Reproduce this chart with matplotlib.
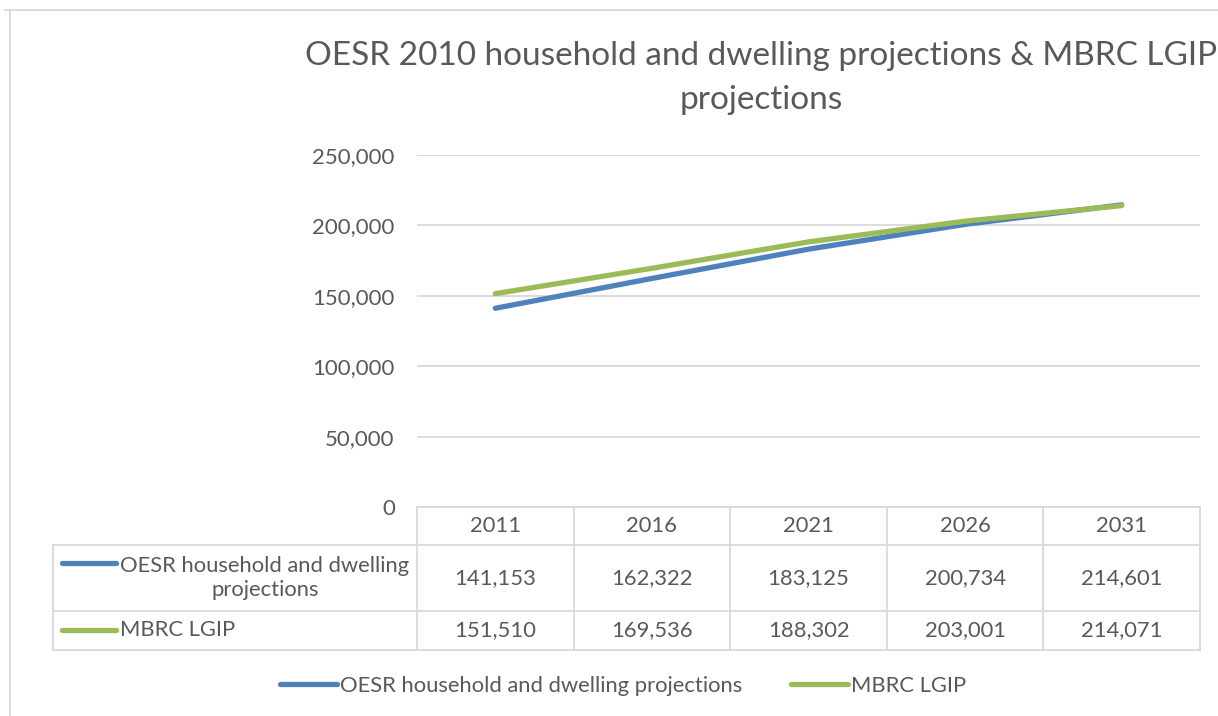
import matplotlib
matplotlib.use('Agg')
import matplotlib.pyplot as plt
from matplotlib.lines import Line2D
from matplotlib.transforms import Affine2D

years = ['2011', '2016', '2021', '2026', '2031']
oesr = [141153, 162322, 183125, 200734, 214601]
mbrc = [151510, 169536, 188302, 203001, 214071]
series_names = ['OESR household and dwelling projections', 'MBRC LGIP']
row_labels = ['OESR household and dwelling\nprojections', 'MBRC LGIP']
yticks = [0, 50000, 100000, 150000, 200000, 250000]
title = 'OESR 2010 household and dwelling projections & MBRC LGIP\nprojections'

BLUE = '#4f81bd'
GREEN = '#9bbb59'
TXT = '#595959'
GRID = '#d9d9d9'
FONT = 'Lato'
FS = 15.8

W, H = 1218, 716
fig = plt.figure(figsize=(W / 100, H / 100), dpi=100)
plt.rcParams['font.family'] = FONT

# pixel transform with top-left origin
pix = Affine2D().scale(1 / W, -1 / H).translate(0, 1) + fig.transFigure

def fx(p):
    return p / W

def fy(p):
    return 1 - p / H

ax = fig.add_axes([fx(417), fy(507), fx(1200) - fx(417), fy(155) - fy(507)])
x = list(range(len(years)))
ax.plot(x, oesr, color=BLUE, lw=3.8, solid_capstyle='round', zorder=3)
ax.plot(x, mbrc, color=GREEN, lw=3.8, solid_capstyle='round', zorder=3)
ax.set_xlim(-0.5, len(years) - 0.5)
ax.set_ylim(yticks[0], yticks[-1])
ax.set_yticks(yticks)
ax.set_yticklabels([f'{v:,}' for v in yticks])
ax.set_xticks([])
ax.grid(axis='y', color=GRID, lw=1.3)
ax.set_axisbelow(True)
for s in ax.spines.values():
    s.set_visible(False)
ax.tick_params(axis='y', length=0, labelsize=16, labelcolor=TXT, pad=16)

# outer chart border
fig.add_artist(Line2D([10, 10], [10, 716], color=GRID, lw=1.3, transform=pix))
fig.add_artist(Line2D([5, 1218], [10, 10], color=GRID, lw=1.3, transform=pix))

# title
fig.text(fx(761), fy(78), title, ha='center', va='center', fontsize=24,
         color=TXT, linespacing=1.55)

# data table
fig.canvas.draw()
to_px = lambda xd: ax.transData.transform((xd, 0))[0]
bounds = [to_px(i - 0.5) for i in range(len(years) + 1)]
centers = [to_px(i) for i in x]
rows_y = [507, 545, 611, 650]
left_px = 53
lw_t = 1.3
# horizontal lines
fig.add_artist(Line2D([bounds[0], bounds[-1]], [rows_y[0], rows_y[0]], color=GRID, lw=lw_t, transform=pix))
for yy in rows_y[1:]:
    fig.add_artist(Line2D([left_px, bounds[-1]], [yy, yy], color=GRID, lw=lw_t, transform=pix))
# vertical lines
for b in bounds:
    fig.add_artist(Line2D([b, b], [rows_y[0], rows_y[-1]], color=GRID, lw=lw_t, transform=pix))
fig.add_artist(Line2D([left_px, left_px], [rows_y[1], rows_y[-1]], color=GRID, lw=lw_t, transform=pix))

for c, yr in zip(centers, years):
    fig.text(c, (rows_y[0] + rows_y[1]) / 2, yr, transform=pix, ha='center', va='center',
             fontsize=FS, color=TXT)
for vals, r in ((oesr, 1), (mbrc, 2)):
    ymid = (rows_y[r] + rows_y[r + 1]) / 2
    for c, v in zip(centers, vals):
        fig.text(c, ymid, f'{v:,}', transform=pix, ha='center', va='center',
                 fontsize=FS, color=TXT)

# row labels with legend keys
fig.add_artist(Line2D([62, 116], [563, 563], color=BLUE, lw=3.8, solid_capstyle='round', transform=pix))
fig.text(265, 578, row_labels[0], transform=pix, ha='center', va='center', fontsize=FS,
         color=TXT, multialignment='center', linespacing=1.2)
fig.add_artist(Line2D([62, 116], [630, 630], color=GREEN, lw=3.8, solid_capstyle='round', transform=pix))
fig.text(120, 630, row_labels[1], transform=pix, ha='left', va='center', fontsize=FS, color=TXT)

# legend
handles = [Line2D([], [], color=BLUE, lw=3.8, solid_capstyle='round'),
           Line2D([], [], color=GREEN, lw=3.8, solid_capstyle='round')]
leg = fig.legend(handles, series_names, loc='center', bbox_to_anchor=(fx(623), fy(686)),
                 ncol=2, frameon=False, fontsize=FS, handlelength=2.6, handletextpad=0.15,
                 columnspacing=2.2)
for t in leg.get_texts():
    t.set_color(TXT)

fig.savefig('out.png', dpi=100)
